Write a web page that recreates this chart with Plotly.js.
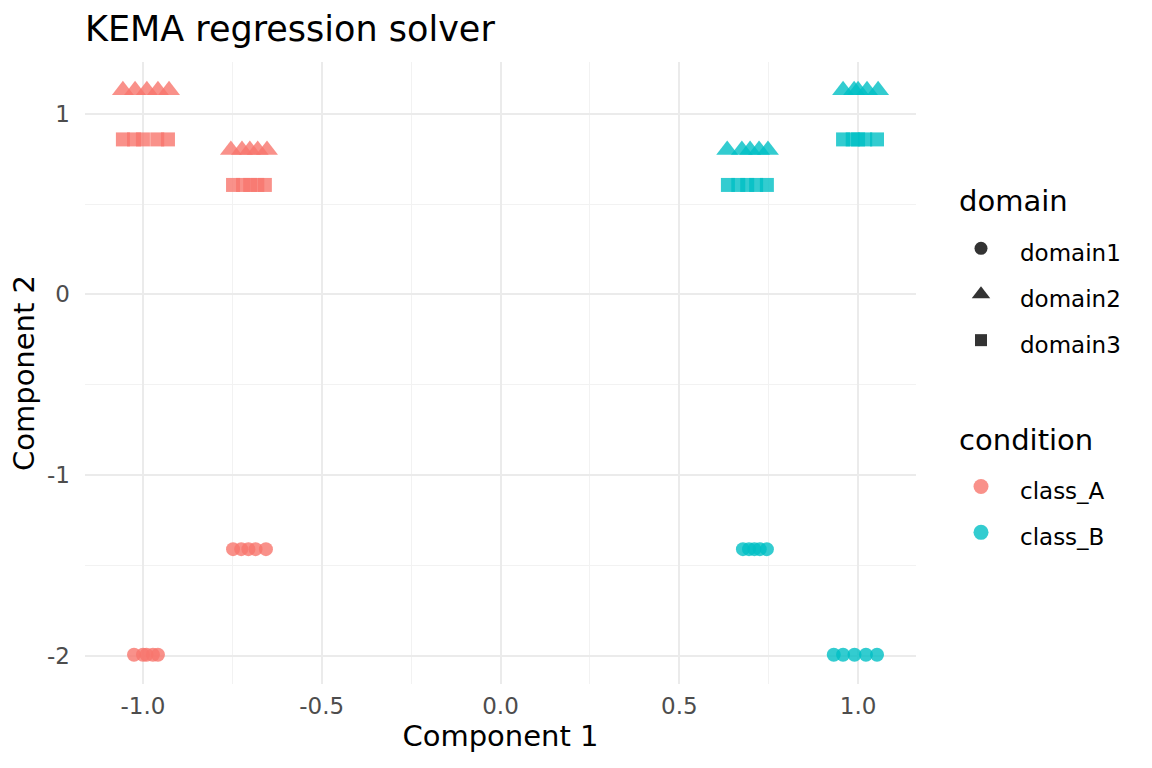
<!DOCTYPE html>
<html>
<head>
<meta charset="utf-8">
<script src="https://cdn.plot.ly/plotly-3.0.1.min.js"></script>
<style>html,body{margin:0;padding:0;background:#fff;}#chart{width:1152px;height:768px;}</style>
</head>
<body>
<div id="chart"></div>
<script>
// ---- data ----
const classes = ["class_A", "class_B"];
const domains = ["domain1", "domain2", "domain3"];
const classColors = ["#F8766D", "#00BFC4"];
const domainSymbols = ["circle", "triangle-up", "square"];

// class_A
const A_domain1_x = [-1.025, -1.0, -0.99, -0.972, -0.958, -0.748, -0.725, -0.705, -0.685, -0.656];
const A_domain1_y = [-1.995, -1.995, -1.995, -1.995, -1.995, -1.41, -1.41, -1.41, -1.41, -1.41];
const A_domain2_x = [-1.056, -1.022, -0.989, -0.958, -0.927, -0.754, -0.723, -0.701, -0.679, -0.653];
const A_domain2_y = [1.13, 1.13, 1.13, 1.13, 1.13, 0.80, 0.80, 0.80, 0.80, 0.80];
const A_domain3_x = [-1.056, -1.025, -1.0, -0.96, -0.93, -0.748, -0.72, -0.70, -0.68, -0.659];
const A_domain3_y = [0.858, 0.858, 0.858, 0.858, 0.858, 0.606, 0.606, 0.606, 0.606, 0.606];
// class_B
const B_domain1_x = [0.678, 0.695, 0.71, 0.725, 0.745, 0.932, 0.958, 0.99, 1.022, 1.053];
const B_domain1_y = [-1.41, -1.41, -1.41, -1.41, -1.41, -1.995, -1.995, -1.995, -1.995, -1.995];
const B_domain2_x = [0.634, 0.675, 0.698, 0.723, 0.748, 0.958, 0.989, 1.0, 1.025, 1.056];
const B_domain2_y = [0.80, 0.80, 0.80, 0.80, 0.80, 1.13, 1.13, 1.13, 1.13, 1.13];
const B_domain3_x = [0.636, 0.665, 0.69, 0.715, 0.745, 0.958, 0.985, 1.0, 1.02, 1.053];
const B_domain3_y = [0.606, 0.606, 0.606, 0.606, 0.606, 0.858, 0.858, 0.858, 0.858, 0.858];

const xTickVals = [-1.0, -0.5, 0.0, 0.5, 1.0];
const xTickText = ["-1.0", "-0.5", "0.0", "0.5", "1.0"];
const yTickVals = [1, 0, -1, -2];
const yTickText = ["1", "0", "-1", "-2"];

const titleText = "KEMA regression solver";
const xTitle = "Component 1";
const yTitle = "Component 2";
const legendTitles = ["domain", "condition"];

// ---- build ----
const FONT = "DejaVu Sans";
const seriesX = [[A_domain1_x, A_domain2_x, A_domain3_x], [B_domain1_x, B_domain2_x, B_domain3_x]];
const seriesY = [[A_domain1_y, A_domain2_y, A_domain3_y], [B_domain1_y, B_domain2_y, B_domain3_y]];
const symSize = [14, 19, 14];

const traces = [];
for (let c = 0; c < classes.length; c++) {
  for (let d = 0; d < domains.length; d++) {
    traces.push({
      type: "scatter", mode: "markers",
      x: seriesX[c][d], y: seriesY[c][d],
      marker: {symbol: domainSymbols[d], size: symSize[d], color: classColors[c], opacity: 0.8, line: {width: 0}},
      showlegend: false, hoverinfo: "skip"
    });
  }
}
// legend entries
const legSpan = s => '<span style="font-size:23px">' + s + '</span>';
const titleSpan = s => '<span style="font-size:38px">&nbsp;</span><span style="font-size:29px">' + s + '</span>';
const groupTitleFont = {family: FONT, size: 48, color: "#000"};
for (let d = 0; d < domains.length; d++) {
  traces.push({
    type: "scatter", mode: "markers", x: [null], y: [null],
    name: legSpan(domains[d]), legendgroup: "domain",
    legendgrouptitle: d === 0 ? {text: titleSpan(legendTitles[0]), font: groupTitleFont} : undefined,
    marker: {symbol: domainSymbols[d], size: [13, 16, 12][d], color: "#333333"},
    showlegend: true
  });
}
for (let c = 0; c < classes.length; c++) {
  traces.push({
    type: "scatter", mode: "markers", x: [null], y: [null],
    name: legSpan(classes[c]), legendgroup: "condition",
    legendgrouptitle: c === 0 ? {text: titleSpan(legendTitles[1]), font: groupTitleFont} : undefined,
    marker: {symbol: "circle", size: 15, color: classColors[c], opacity: 0.8},
    showlegend: true
  });
}

const layout = {
  width: 1152, height: 768,
  paper_bgcolor: "#ffffff", plot_bgcolor: "#ffffff",
  margin: {l: 85, r: 236, t: 62, b: 84, pad: 0},
  font: {family: FONT, color: "#000"},
  title: {text: titleText, font: {family: FONT, size: 35, color: "#000"},
          xref: "paper", x: 0, xanchor: "left", yref: "container", y: 1 - 29/768, yanchor: "middle"},
  xaxis: {
    range: [-1.162, 1.162], tickvals: xTickVals, ticktext: xTickText,
    showgrid: true, gridcolor: "#EBEBEB", gridwidth: 2, zeroline: false, showline: false,
    ticks: "", tickfont: {family: FONT, size: 23, color: "#4D4D4D"}, ticklabelstandoff: 6,
    minor: {tickvals: [-0.75, -0.25, 0.25, 0.75], showgrid: true, gridcolor: "#F2F2F2", gridwidth: 1, ticks: ""},
    title: {text: xTitle, font: {family: FONT, size: 29, color: "#000"}, standoff: 6},
    fixedrange: true
  },
  yaxis: {
    range: [-2.1565, 1.2865], tickvals: yTickVals, ticktext: yTickText,
    showgrid: true, gridcolor: "#EBEBEB", gridwidth: 2, zeroline: false, showline: false,
    ticks: "", tickfont: {family: FONT, size: 23, color: "#4D4D4D"}, ticklabelstandoff: 14,
    minor: {tickvals: [-1.5, -0.5, 0.5], showgrid: true, gridcolor: "#F2F2F2", gridwidth: 1, ticks: ""},
    title: {text: yTitle, font: {family: FONT, size: 29, color: "#000"}, standoff: 3},
    fixedrange: true
  },
  legend: {
    xref: "container", yref: "container", x: 942/1152, y: 1 - 155/768, xanchor: "left", yanchor: "top",
    font: {family: FONT, size: 33, color: "#000"},
    itemwidth: 68, tracegroupgap: 35, traceorder: "grouped", maxheight: 700,
    bgcolor: "rgba(0,0,0,0)", borderwidth: 0, itemclick: false, itemdoubleclick: false
  },
  showlegend: true
};

Plotly.newPlot("chart", traces, layout, {displayModeBar: false, staticPlot: true});
</script>
</body>
</html>
